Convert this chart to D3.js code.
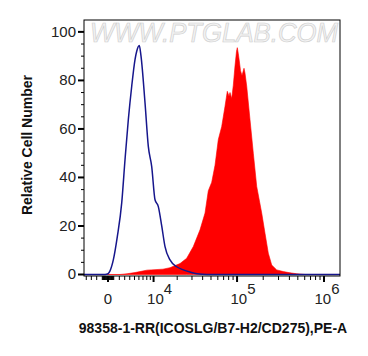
<!DOCTYPE html>
<html><head><meta charset="utf-8">
<script src="https://cdn.jsdelivr.net/npm/d3@7"></script>
<style>
html,body{margin:0;padding:0;background:#fff;}
svg text{font-family:"Liberation Sans",Arial,sans-serif;}
</style></head>
<body>
<svg id="chart" width="368" height="356"></svg>
<script>
// ---- data (fluorescence intensity, relative cell number) ----
const controlX = [-4470, -523, 0, 348, 926, 1636, 2439, 3061, 3708, 4404, 5113, 5493, 6096, 6506, 7524, 8427, 9424, 10466, 11588, 12836, 14146, 16339, 19737, 23693, 28449, 34381, 44961, 1527000];
const controlY = [0, 0, 0.3, 1.5, 6, 15.6, 29.5, 47.3, 63.8, 77.6, 88.6, 92, 94.4, 90, 70.8, 52.8, 44.5, 30.8, 28, 20, 11.5, 6, 3.2, 1.9, 1, 0.3, 0, 0];
const sampleX = [-4470, 2125, 3450, 5113, 6263, 8064, 10466, 13320, 16339, 18299, 21631, 26004, 31109, 37267, 42620, 46550, 50980, 55670, 60780, 66540, 72640, 77210, 80780, 82960, 86790, 90550, 94730, 98570, 100690, 103400, 106170, 109610, 114050, 120260, 123490, 129190, 140990, 153880, 168380, 192210, 209760, 228920, 250490, 285950, 340520, 406644, 485505, 604800, 1527000];
const sampleY = [0, 0, 0.3, 0.8, 1.2, 1.8, 2, 2.2, 2.8, 3.5, 4.5, 6.7, 11.5, 18.4, 25.3, 34.5, 38, 45, 55.6, 61, 69.3, 75.5, 73.5, 75, 72.5, 78, 86, 92, 93.5, 91, 88, 84, 82, 85, 83, 77.6, 63.8, 50, 36.3, 25.3, 17, 8.8, 3.9, 1.9, 1.2, 0.7, 0.3, 0, 0];
const xMajorTicks = [0, 10000, 100000, 1000000];
const xTickBase = ["0", "10", "10", "10"];
const xTickExp = ["", "4", "5", "6"];
const yMajorTicks = [0, 20, 40, 60, 80, 100];
const xDomain = [-4470, 1527000];
const yDomain = [-0.62, 104.9];
const xTitle = "98358-1-RR(ICOSLG/B7-H2/CD275),PE-A";
const yTitle = "Relative Cell Number";
const watermark = "WWW.PTGLAB.COM";

// ---- layout ----
const L = 84, R = 340, T = 20, B = 276;
const svg = d3.select("#chart");

// logicle-like (arcsinh) transform used by the x scale
const C = 3290;
const tf = v => Math.asinh(v / (2 * C));
const xLin = d3.scaleLinear().domain(xDomain.map(tf)).range([L, R]);
const x = v => xLin(tf(v));
const y = d3.scaleLinear().domain(yDomain).range([B, T]);

// minor x ticks
const xMinor = [];
[100, 1000].forEach(p => { for (let k = 1; k <= 9; k++) { xMinor.push(k * p, -k * p); } });
[10000, 100000].forEach(p => { for (let k = 2; k <= 9; k++) xMinor.push(k * p); });
const xMinorIn = xMinor.filter(v => v > xDomain[0] && v < xDomain[1]);
const yMinor = d3.range(0, 105, 5).filter(v => v % 20 !== 0);

// sample (filled red)
const sample = sampleX.map((v, i) => [v, sampleY[i]]);
const control = controlX.map((v, i) => [v, controlY[i]]);

svg.append("path").datum(sample)
  .attr("d", d3.area().x(d => x(d[0])).y0(y(0)).y1(d => y(d[1])))
  .attr("fill", "#ff0000").attr("stroke", "#ff0000").attr("stroke-width", 0.6);

// control (blue line)
svg.append("path").datum(control)
  .attr("d", d3.line().x(d => x(d[0])).y(d => y(d[1])).curve(d3.curveMonotoneX))
  .attr("fill", "none").attr("stroke", "#16168c").attr("stroke-width", 1.5);

// watermark
svg.append("text").attr("x", (L + R) / 2 + 2).attr("y", 42)
  .attr("text-anchor", "middle").attr("font-size", 27).attr("font-style", "italic")
  .attr("textLength", 248).attr("lengthAdjust", "spacingAndGlyphs")
  .attr("fill", "#f3f3f3").attr("stroke", "#cfcfcf").attr("stroke-width", 0.7)
  .text(watermark);

// frame
svg.append("rect").attr("x", L).attr("y", T).attr("width", R - L).attr("height", B - T)
  .attr("fill", "none").attr("stroke", "#000").attr("stroke-width", 1);

// y axis ticks
const gy = svg.append("g");
gy.selectAll("line.maj").data(yMajorTicks).join("line")
  .attr("x1", L - 6).attr("x2", L).attr("y1", d => y(d)).attr("y2", d => y(d))
  .attr("stroke", "#000").attr("stroke-width", 2);
gy.selectAll("line.min").data(yMinor).join("line")
  .attr("x1", L - 3).attr("x2", L).attr("y1", d => y(d)).attr("y2", d => y(d))
  .attr("stroke", "#000").attr("stroke-width", 1);
gy.selectAll("text").data(yMajorTicks).join("text")
  .attr("x", L - 8).attr("y", d => y(d) + 5).attr("text-anchor", "end")
  .attr("font-size", 15).attr("fill", "#222").text(d => d);

// x axis ticks
const gx = svg.append("g");
gx.selectAll("line.min").data(xMinorIn).join("line")
  .attr("x1", d => x(d)).attr("x2", d => x(d)).attr("y1", B).attr("y2", B + 4)
  .attr("stroke", "#000").attr("stroke-width", 1);
gx.selectAll("line.maj").data(xMajorTicks).join("line")
  .attr("x1", d => x(d)).attr("x2", d => x(d)).attr("y1", B).attr("y2", B + 6)
  .attr("stroke", "#000").attr("stroke-width", 2);
const lab = gx.selectAll("text").data(xMajorTicks).join("text")
  .attr("x", (d, i) => x(d) + (i === 0 ? 0 : i === 3 ? 3 : 6)).attr("y", 304)
  .attr("text-anchor", "middle").attr("font-size", 15).attr("fill", "#222");
lab.append("tspan").text((d, i) => xTickBase[i]);
lab.append("tspan").attr("dy", -10).attr("font-size", 15).text((d, i) => xTickExp[i]);

// titles
svg.append("text").attr("x", 213).attr("y", 333).attr("text-anchor", "middle")
  .attr("font-size", 14).attr("font-weight", "bold").attr("fill", "#111").text(xTitle);
svg.append("text").attr("transform", "translate(32,145) rotate(-90)")
  .attr("text-anchor", "middle").attr("font-size", 14).attr("font-weight", "bold")
  .attr("fill", "#111").text(yTitle);
</script>
</body></html>
